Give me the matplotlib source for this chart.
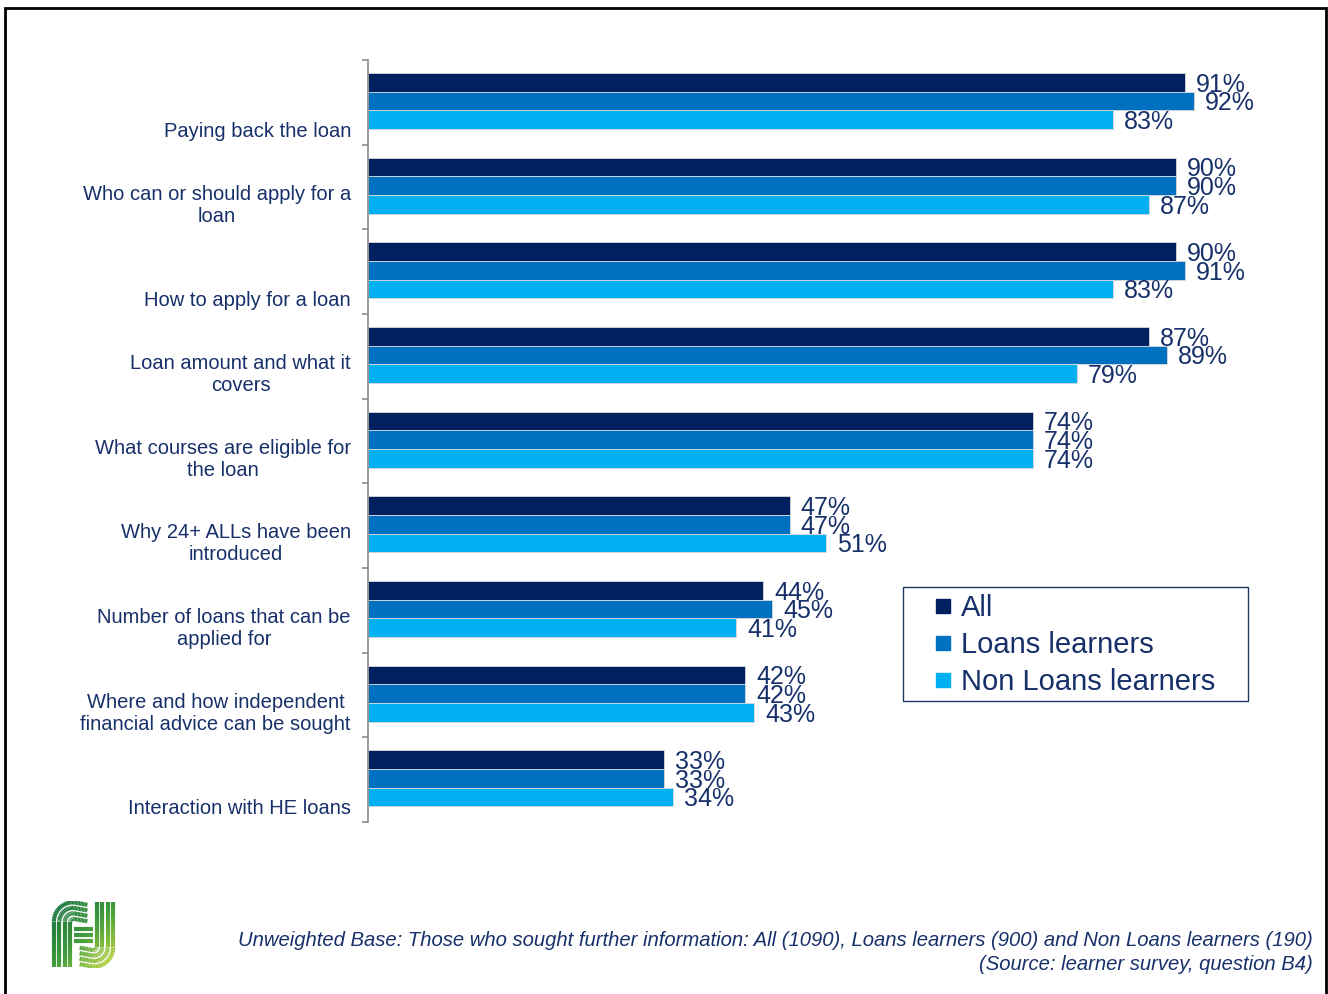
import numpy as np
import matplotlib
matplotlib.use("Agg")
import matplotlib.pyplot as plt
from matplotlib.patches import Rectangle
from matplotlib.lines import Line2D
from matplotlib.collections import LineCollection
from matplotlib.colors import LinearSegmentedColormap

plt.rcParams['font.family'] = ['Liberation Sans', 'DejaVu Sans']

categories = [
    "Paying back the loan",
    "Who can or should apply for a\nloan",
    "How to apply for a loan",
    "Loan amount and what it\ncovers",
    "What courses are eligible for\nthe loan",
    "Why 24+ ALLs have been\nintroduced",
    "Number of loans that can be\napplied for",
    "Where and how independent\nfinancial advice can be sought",
    "Interaction with HE loans",
]
series_names = ["All", "Loans learners", "Non Loans learners"]
all_vals = [91, 90, 90, 87, 74, 47, 44, 42, 33]
loans_vals = [92, 90, 91, 89, 74, 47, 45, 42, 33]
non_loans_vals = [83, 87, 83, 79, 74, 51, 41, 43, 34]
footnote_lines = [
    "Unweighted Base: Those who sought further information: All (1090), Loans learners (900) and Non Loans learners (190)",
    "(Source: learner survey, question B4)",
]

colors = ["#002060", "#0070C0", "#00B0F0"]
text_col = "#17306A"

W, H = 1328, 994
fig = plt.figure(figsize=(W / 100, H / 100), dpi=100)
fig.patch.set_facecolor("white")

# plot area in pixel terms -> figure fractions
ax_left, ax_right, ax_top, ax_bottom = 368, 1266, 60, 822
ax = fig.add_axes([ax_left / W, 1 - ax_bottom / H,
                   (ax_right - ax_left) / W, (ax_bottom - ax_top) / H])
ax.set_xlim(0, 100)
ax.set_ylim(len(categories), 0)

bar_h = 0.22
offsets = [0.263, 0.483, 0.703]
series = [all_vals, loans_vals, non_loans_vals]
idx = np.arange(len(categories))
for s, (vals, off, col, name) in enumerate(zip(series, offsets, colors, series_names)):
    ax.barh(idx + off, vals, height=bar_h, color=col, edgecolor="#D9D9D9",
            linewidth=0.6, label=name)
    for i, v in enumerate(vals):
        ax.text(v + 1.2, i + off + 0.03, f"{v}%", ha="left", va="center",
                fontsize=18, color=text_col)

for i, lab in enumerate(categories):
    ax.text(-1.9, i + 0.955, lab, ha="right", va="bottom", multialignment="center",
            fontsize=14.5, color=text_col, linespacing=1.2)

for sp in ["top", "right", "bottom"]:
    ax.spines[sp].set_visible(False)
ax.spines["left"].set_color("#8C8C8C")
ax.spines["left"].set_linewidth(1.2)
ax.set_xticks([])
ax.set_yticks(np.arange(len(categories) + 1))
ax.set_yticklabels([])
ax.tick_params(axis="y", direction="out", length=4.5, width=1.2, color="#8C8C8C")

# legend: entries placed inside a separately drawn box
handles = [Line2D([], [], marker="s", linestyle="none", markersize=10,
                  markerfacecolor=c, markeredgecolor=c) for c in colors]
leg = fig.legend(handles, series_names, loc="center left",
                 bbox_to_anchor=(933 / W, 1 - 645 / H), frameon=False,
                 fontsize=21, handlelength=0.7, handletextpad=0.25,
                 labelspacing=0.3, borderpad=0, borderaxespad=0,
                 labelcolor=text_col)
fig.add_artist(Rectangle((903 / W, 1 - 701 / H), 345 / W, 114 / H,
                         transform=fig.transFigure, fill=False,
                         edgecolor="#1F3864", linewidth=1.0))

fig.text(1313 / W, 1 - 940 / H, footnote_lines[0], ha="right", va="center",
         fontsize=14.55, style="italic", color=text_col)
fig.text(1313 / W, 1 - 964 / H, footnote_lines[1], ha="right", va="center",
         fontsize=14.55, style="italic", color=text_col)

# emblem in the lower-left corner
lax = fig.add_axes([50 / W, 1 - 968 / H, 67 / W, 67 / H])
lax.set_xlim(-0.02, 1.02)
lax.set_ylim(-0.02, 1.02)
lax.axis("off")
cmap = LinearSegmentedColormap.from_list("g", ["#0E6B3A", "#3E9A3C", "#C9DD3C"])

def arc(cx, cy, r, a0, a1, n=20):
    t = np.linspace(np.radians(a0), np.radians(a1), n)
    return np.column_stack([cx + r * np.cos(t), cy + r * np.sin(t)])

paths = []
step = 0.085
for k in range(4):
    d = 0.04 + step * k
    # left stroke: up from the bottom, round the top-left corner, to the middle
    paths.append(np.vstack([[[d, 0.0]], [[d, 0.70]], arc(0.34, 0.70, 0.34 - d, 180, 90),
                            [[0.56, 1 - d]]]))
    # right stroke: down from the top, round the bottom-right corner, to the middle
    paths.append(np.vstack([[[1 - d, 1.0]], [[1 - d, 0.30]], arc(0.66, 0.30, 0.34 - d, 0, -90),
                            [[0.44, d]]]))
# central cross bars
for y in [0.40, 0.49, 0.58]:
    paths.append(np.array([[0.36, y], [0.64, y]]))

segs, cols = [], []
for p in paths:
    fine = []
    for a, b in zip(p[:-1], p[1:]):
        n = max(2, int(np.hypot(*(b - a)) / 0.02))
        t = np.linspace(0, 1, n)[:, None]
        fine.append(a + (b - a) * t)
    fine = np.vstack(fine)
    for a, b in zip(fine[:-1], fine[1:]):
        segs.append([a, b])
        m = (a + b) / 2
        cols.append(cmap(np.clip((m[0] - m[1] + 1) / 2, 0, 1)))
lax.add_collection(LineCollection(segs, colors=cols, linewidths=3.0, capstyle="butt"))

# frame around the slide (open at the bottom edge)
fig.add_artist(Rectangle((5 / W, -10 / H), 1321 / W, (H + 2) / H, transform=fig.transFigure,
                         fill=False, edgecolor="black", linewidth=2))

fig.savefig("out.png", dpi=100)
